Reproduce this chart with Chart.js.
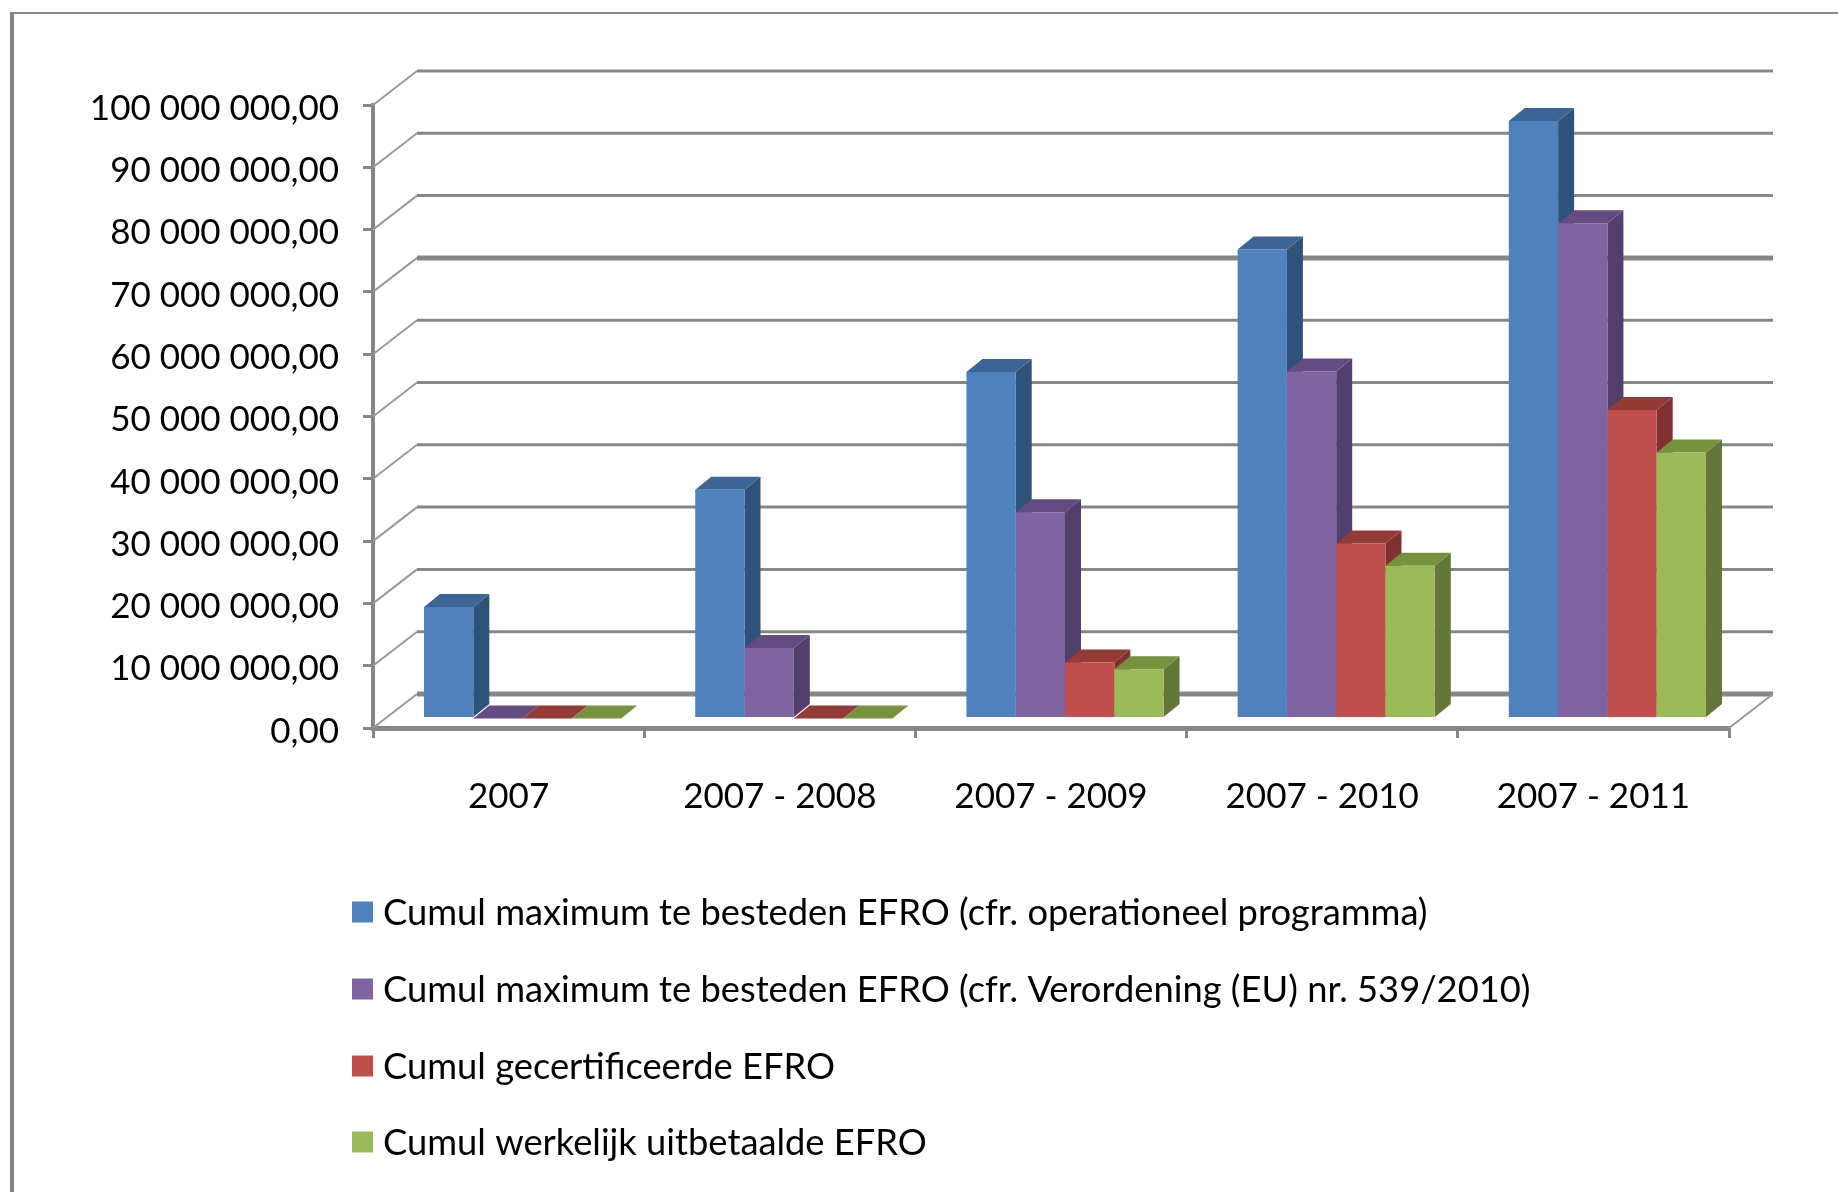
<!DOCTYPE html>
<html>
<head>
<meta charset="utf-8">
<style>
html,body{margin:0;padding:0;background:#fff;overflow:hidden}
canvas{display:block;filter:blur(0.6px)}
</style>
<script src="https://cdn.jsdelivr.net/npm/chart.js@4"></script>
</head>
<body>
<canvas id="c" width="1838" height="1192"></canvas>
<script>
const categories = ["2007", "2007 - 2008", "2007 - 2009", "2007 - 2010", "2007 - 2011"];
const seriesNames = [
  "Cumul maximum te besteden EFRO (cfr. operationeel programma)",
  "Cumul maximum te besteden EFRO (cfr. Verordening (EU) nr. 539/2010)",
  "Cumul gecertificeerde EFRO",
  "Cumul werkelijk uitbetaalde EFRO"
];
const maxOperationeel = [17900000, 36700000, 55600000, 75300000, 95900000];
const maxVerordening = [0, 11300000, 33100000, 55700000, 79500000];
const gecertificeerd = [0, 0, 9000000, 28100000, 49500000];
const uitbetaald = [0, 0, 7900000, 24500000, 42700000];
const yTickLabels = ["0,00", "10 000 000,00", "20 000 000,00", "30 000 000,00", "40 000 000,00", "50 000 000,00", "60 000 000,00", "70 000 000,00", "80 000 000,00", "90 000 000,00", "100 000 000,00"];
const frontColors = ["#4F81BD", "#8064A2", "#C0504D", "#9BBB59"];
const sideColors = ["#2F5279", "#533F6C", "#7F3130", "#66763A"];
const topColors = ["#3C6494", "#644B82", "#943A37", "#76923C"];

const FONT = "Lato, 'Open Sans', sans-serif";
const LINE = "#868686";
const WALL = { dx: 44, dy: 34 };     // depth of the chart floor
const BAR_SHIFT = { dx: 14, dy: 9.5 }; // front faces sit inside the floor
const BAR_DEPTH = { dx: 16, dy: 13 };

const frame3d = {
  id: "frame3d",
  afterLayout(chart) {
    // the reference's value labels sit slightly lower than their ticks
    chart.scales.y.getLabelItems().forEach(item => { item.options.translation[1] += 3.5; });
  },
  beforeDatasetsDraw(chart) {
    const { ctx, chartArea: a, scales: { y } } = chart;
    ctx.save();
    ctx.lineCap = "butt";
    y.ticks.forEach(t => {
      const py = y.getPixelForValue(t.value);
      ctx.strokeStyle = "#9a9a9a";
      ctx.lineWidth = 2;
      ctx.beginPath();
      ctx.moveTo(a.left, py);
      ctx.lineTo(a.left + WALL.dx, py - WALL.dy);
      ctx.stroke();
      ctx.strokeStyle = LINE;
      ctx.lineWidth = (t.value === 70000000 || t.value === 0) ? 5 : 3;
      ctx.beginPath();
      ctx.moveTo(a.left + WALL.dx, py - WALL.dy);
      ctx.lineTo(a.right + WALL.dx, py - WALL.dy);
      ctx.stroke();
    });
    const y0 = y.getPixelForValue(0);
    ctx.strokeStyle = "#9a9a9a";
    ctx.lineWidth = 2;
    ctx.beginPath();
    ctx.moveTo(a.right, y0);
    ctx.lineTo(a.right + WALL.dx, y0 - WALL.dy);
    ctx.stroke();

    ctx.translate(BAR_SHIFT.dx, -BAR_SHIFT.dy);
    chart.data.datasets.forEach((ds, di) => {
      const meta = chart.getDatasetMeta(di);
      meta.data.forEach(el => {
        const { x, y: top, base, width } = el.getProps(["x", "y", "base", "width"], true);
        const l = x - width / 2, r = x + width / 2;
        ctx.fillStyle = sideColors[di];
        ctx.beginPath();
        ctx.moveTo(r, top); ctx.lineTo(r + BAR_DEPTH.dx, top - BAR_DEPTH.dy);
        ctx.lineTo(r + BAR_DEPTH.dx, base - BAR_DEPTH.dy); ctx.lineTo(r, base);
        ctx.closePath(); ctx.fill();
        ctx.fillStyle = topColors[di];
        ctx.beginPath();
        ctx.moveTo(l, top); ctx.lineTo(l + BAR_DEPTH.dx, top - BAR_DEPTH.dy);
        ctx.lineTo(r + BAR_DEPTH.dx, top - BAR_DEPTH.dy); ctx.lineTo(r, top);
        ctx.closePath(); ctx.fill();
      });
      meta.controller.draw();
    });
    ctx.restore();
    return false;
  },
  beforeDraw(chart) {
    const { ctx, width, height } = chart;
    ctx.save();
    ctx.fillStyle = "#fff";
    ctx.fillRect(0, 0, width, height);
    ctx.fillStyle = LINE;
    ctx.fillRect(10, 12, width - 10, 2);
    ctx.fillRect(10, 12, 4, height - 12);
    ctx.restore();
  },
  afterDraw(chart) {
    const { ctx } = chart;
    const rows = [913, 990, 1067, 1143];
    ctx.save();
    ctx.font = "36.3px " + FONT;
    ctx.textBaseline = "middle";
    ctx.textAlign = "left";
    chart.data.datasets.forEach((ds, i) => {
      ctx.fillStyle = ds.backgroundColor;
      ctx.fillRect(352, rows[i] - 11.5, 21, 21);
      ctx.fillStyle = "#000";
      ctx.fillText(ds.label, 383, rows[i]);
    });
    ctx.restore();
  }
};

new Chart(document.getElementById("c"), {
  type: "bar",
  data: {
    labels: categories,
    datasets: [maxOperationeel, maxVerordening, gecertificeerd, uitbetaald].map((data, i) => ({
      label: seriesNames[i],
      data,
      backgroundColor: frontColors[i],
      borderWidth: 0,
      barPercentage: 1,
      categoryPercentage: 0.727
    }))
  },
  options: {
    responsive: false,
    animation: false,
    layout: { padding: { top: 105, right: 109, bottom: 0, left: 0 } },
    plugins: { legend: { display: false }, title: { display: false }, tooltip: { enabled: false } },
    scales: {
      x: {
        offset: true,
        afterFit(s) { s.height = 464; },
        border: { color: LINE, width: 5 },
        grid: { offset: true, drawOnChartArea: false, color: LINE, lineWidth: 3, tickLength: 10 },
        ticks: { color: "#000", font: { family: FONT, size: 35 }, padding: 38, maxRotation: 0, autoSkip: false }
      },
      y: {
        min: 0,
        max: 100000000,
        afterFit(s) { s.width = 373; },
        border: { color: LINE, width: 4 },
        grid: { drawOnChartArea: false, color: LINE, lineWidth: 3, tickLength: 10 },
        ticks: {
          stepSize: 10000000,
          color: "#000",
          font: { family: FONT, size: 35 },
          padding: 24,
          callback: (v, i) => yTickLabels[i]
        }
      }
    }
  },
  plugins: [frame3d]
});
</script>
</body>
</html>
